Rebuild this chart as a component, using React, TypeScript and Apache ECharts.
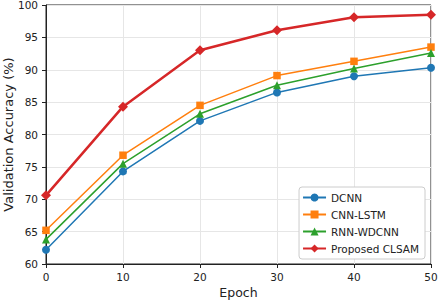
import React, { useEffect, useRef } from "react";
import * as echarts from "echarts";

const epochs = [0, 10, 20, 30, 40, 50];
const dcnn = [62.2, 74.3, 82.1, 86.5, 89.0, 90.3];
const cnnLstm = [65.2, 76.8, 84.5, 89.1, 91.3, 93.5];
const rnnWdcnn = [63.8, 75.5, 83.2, 87.6, 90.2, 92.6];
const clsam = [70.6, 84.3, 93.0, 96.1, 98.1, 98.5];
const seriesNames = ["DCNN", "CNN-LSTM", "RNN-WDCNN", "Proposed CLSAM"];

const FONT = "DejaVu Sans";

export default function App() {
  const ref = useRef<HTMLDivElement>(null);
  useEffect(() => {
    if (!ref.current) return;
    const chart = echarts.init(ref.current, undefined, { renderer: "svg" });
    const pair = (vals: number[]) => epochs.map((e, i) => [e, vals[i]]);
    const mk = (
      name: string,
      vals: number[],
      color: string,
      symbol: string,
      size: number,
      width: number
    ) => ({
      name,
      type: "line",
      data: pair(vals),
      symbol,
      symbolSize: size,
      showSymbol: true,
      lineStyle: { color, width },
      itemStyle: { color },
      z: name === seriesNames[3] ? 5 : 3,
    });
    chart.setOption({
      animation: false,
      textStyle: { fontFamily: FONT },
      grid: {
        left: 46,
        right: 7,
        top: 5,
        bottom: 36,
        show: true,
        borderColor: "#222",
        borderWidth: 1,
        containLabel: false,
        outerBoundsMode: "none",
      },
      legend: {
        right: 13,
        bottom: 41,
        orient: "vertical",
        backgroundColor: "#fff",
        borderColor: "#ccc",
        borderWidth: 1,
        borderRadius: 3,
        padding: [5, 6, 5, 3],
        itemGap: 6,
        itemWidth: 23,
        itemHeight: 10,
        textStyle: { fontFamily: FONT, fontSize: 10.5, color: "#222" },
        data: seriesNames,
      },
      xAxis: {
        type: "value",
        min: 0,
        max: 50,
        interval: 10,
        name: "Epoch",
        nameLocation: "middle",
        nameGap: 22,
        nameMoveOverlap: false,
        nameTextStyle: { fontFamily: FONT, fontSize: 12.5, color: "#222" },
        axisLine: { show: true, lineStyle: { color: "#222" } },
        axisTick: { show: true, length: 4, lineStyle: { color: "#222" } },
        axisLabel: { fontFamily: FONT, fontSize: 10.5, color: "#222", margin: 7 },
        splitLine: { show: true, lineStyle: { color: "#e6e6e6", width: 1 } },
      },
      yAxis: {
        type: "value",
        min: 60,
        max: 100,
        interval: 5,
        name: "Validation Accuracy (%)",
        nameLocation: "middle",
        nameGap: 31,
        nameMoveOverlap: false,
        nameTextStyle: { fontFamily: FONT, fontSize: 13, color: "#222" },
        axisLine: { show: true, lineStyle: { color: "#222" } },
        axisTick: { show: true, length: 4, lineStyle: { color: "#222" } },
        axisLabel: { fontFamily: FONT, fontSize: 10.5, color: "#222", margin: 8 },
        splitLine: { show: true, lineStyle: { color: "#e6e6e6", width: 1 } },
      },
      series: [
        mk(seriesNames[0], dcnn, "#1f77b4", "circle", 8, 1.5),
        mk(seriesNames[1], cnnLstm, "#ff7f0e", "rect", 7.5, 1.5),
        mk(seriesNames[2], rnnWdcnn, "#2ca02c", "triangle", 8, 1.5),
        mk(seriesNames[3], clsam, "#d62728", "diamond", 10, 2.5),
      ],
    });
    return () => chart.dispose();
  }, []);
  return (
    <div
      ref={ref}
      style={{ position: "absolute", left: 0, top: 0, width: 438, height: 300 }}
    />
  );
}
